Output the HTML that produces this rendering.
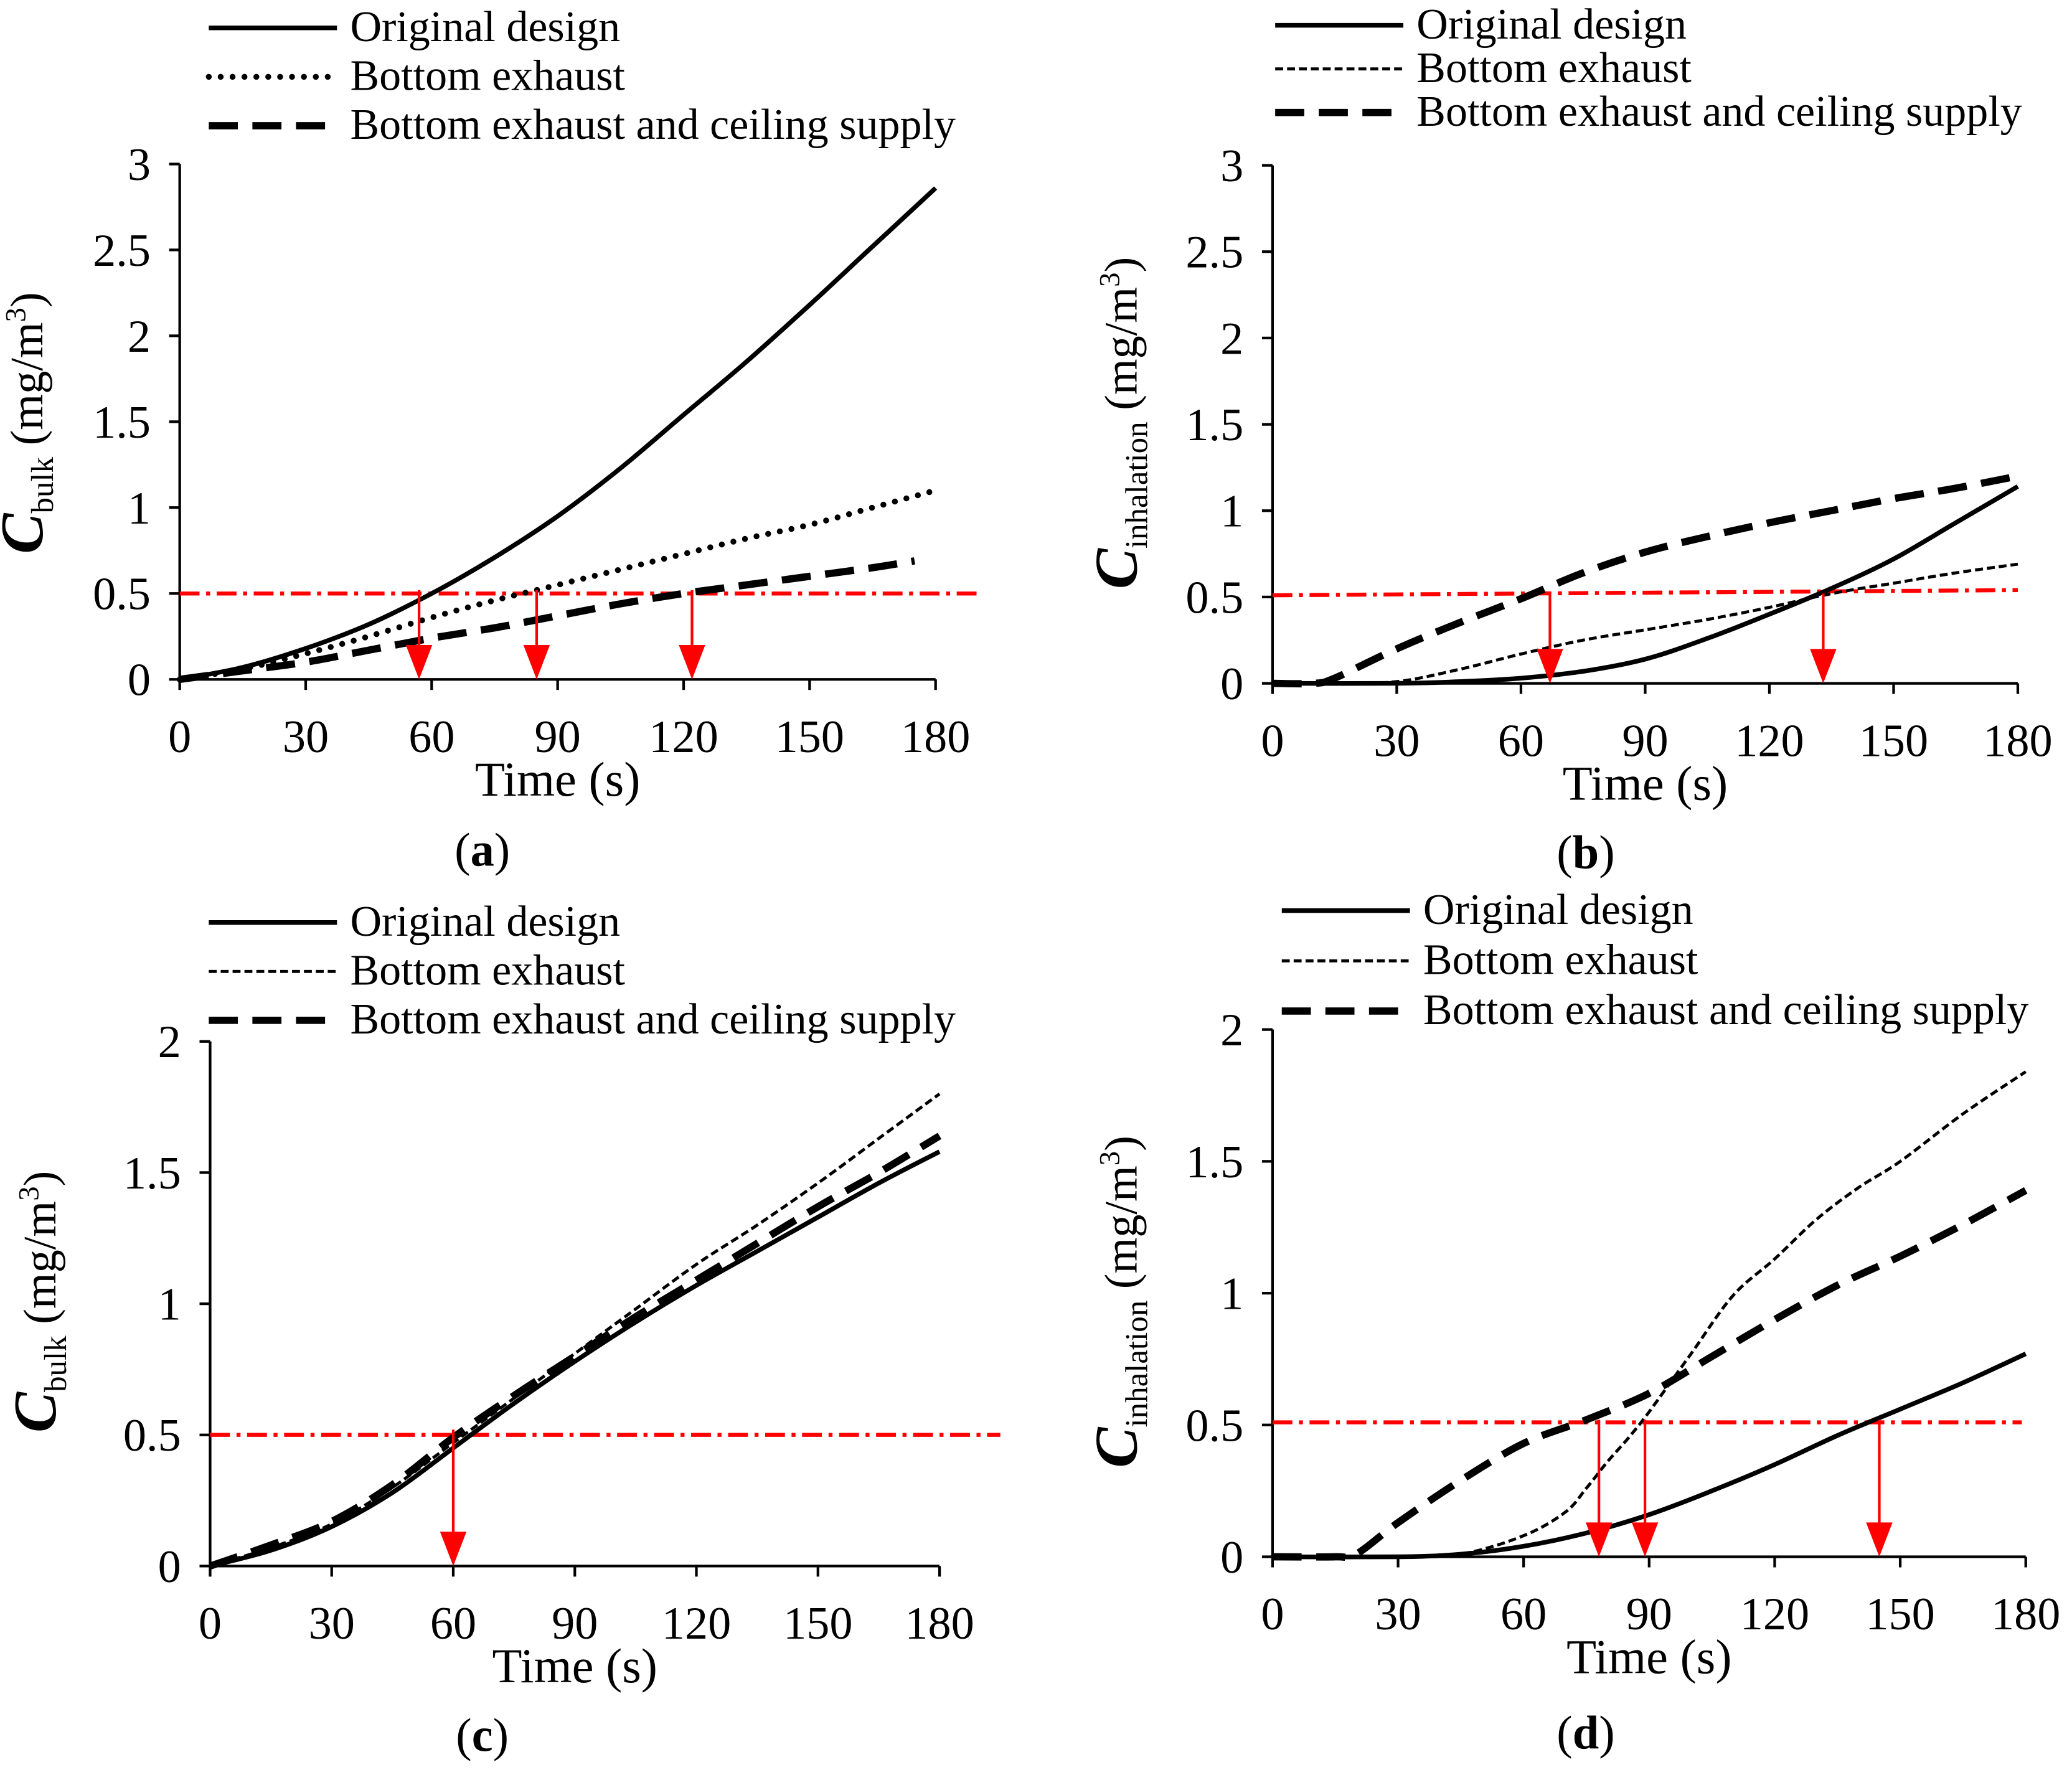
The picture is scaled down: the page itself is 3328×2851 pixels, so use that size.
<!DOCTYPE html>
<html><head><meta charset="utf-8"><style>
html,body{margin:0;padding:0;background:#fff}
svg{display:block;font-family:"Liberation Serif",serif}
</style></head><body>
<svg id="fig" width="3328" height="2851" viewBox="0 0 1568 1343" xmlns="http://www.w3.org/2000/svg"></svg>
<script>
// Panel (a)
const aT=[0,15,30,45,60,75,90,105,120,135,150,165,180];
const aOrig=[0,0.07,0.18,0.32,0.5,0.71,0.95,1.23,1.54,1.85,2.18,2.52,2.86];
const aBEt=[0,15,30,45,60,75,90,105,120,135,150,165,180];
const aBE=[0,0.06,0.15,0.25,0.36,0.46,0.55,0.64,0.73,0.82,0.9,1.0,1.1];
const aBCt=[0,15,30,45,60,75,90,105,120,135,150,165,175];
const aBC=[0,0.05,0.1,0.17,0.24,0.3,0.37,0.44,0.5,0.55,0.6,0.65,0.69];
const aArrows=[57,85,122];
// Panel (b)
const bOt=[0,30,45,60,75,90,105,120,135,150,165,180];
const bOrig=[0,0,0.01,0.03,0.07,0.14,0.26,0.4,0.55,0.72,0.93,1.14];
const bBEt=[0,15,30,45,60,75,90,105,120,135,150,165,180];
const bBE=[0,0,0.01,0.08,0.17,0.25,0.31,0.37,0.44,0.52,0.58,0.64,0.69];
const bBCt=[0,10,15,30,45,60,75,90,105,120,135,150,165,180];
const bBC=[0,0,0.03,0.2,0.35,0.49,0.64,0.76,0.85,0.93,1.0,1.07,1.13,1.2];
const bArrows=[67,133];
// Panel (c)
const cT=[0,15,30,45,60,75,90,105,120,135,150,165,180];
const cOrig=[0,0.06,0.15,0.28,0.45,0.62,0.78,0.93,1.07,1.2,1.33,1.46,1.58];
const cBE=[0,0.07,0.16,0.3,0.47,0.64,0.81,0.98,1.15,1.3,1.46,1.63,1.8];
const cBC=[0,0.08,0.17,0.31,0.49,0.65,0.8,0.95,1.09,1.23,1.37,1.5,1.64];
const cArrows=[60];
// Panel (d)
const dOt=[0,30,45,60,75,90,105,120,135,150,165,180];
const dOrig=[0,0,0.01,0.04,0.09,0.16,0.25,0.35,0.46,0.56,0.66,0.77];
const dBEt=[0,30,45,60,70,75,80,85,90,100,110,120,130,140,150,165,180];
const dBE=[0,0,0.01,0.08,0.17,0.26,0.36,0.45,0.55,0.77,0.99,1.13,1.28,1.4,1.5,1.68,1.84];
const dBCt=[0,15,20,30,45,60,75,90,105,120,135,150,165,180];
const dBC=[0,0,0.01,0.13,0.29,0.43,0.52,0.62,0.76,0.9,1.03,1.14,1.26,1.39];
const dArrows=[78,89,145];
const xTicks=[0,30,60,90,120,150,180];
const yTicks3=["0","0.5","1","1.5","2","2.5","3"];
const yTicks2=["0","0.5","1","1.5","2"];
const legendNames=["Original design","Bottom exhaust","Bottom exhaust and ceiling supply"];

const NS="http://www.w3.org/2000/svg";
const svg=document.getElementById('fig');
function mk(tag,attrs,parent){const e=document.createElementNS(NS,tag);for(const k in attrs)e.setAttribute(k,attrs[k]);(parent||svg).appendChild(e);return e;}
const styles={
 solid:{stroke:'#000','stroke-width':3.5,fill:'none'},
 dotted:{stroke:'#000','stroke-width':4.5,fill:'none','stroke-dasharray':'0 9','stroke-linecap':'round'},
 thin:{stroke:'#000','stroke-width':2.3,fill:'none','stroke-dasharray':'6 3'},
 thick:{stroke:'#000','stroke-width':5.5,fill:'none','stroke-dasharray':'22 11'}
};
function smoothPath(P){
 let d=`M${P[0][0].toFixed(1)},${P[0][1].toFixed(1)}`;
 for(let i=0;i<P.length-1;i++){
  const p0=P[Math.max(0,i-1)],p1=P[i],p2=P[i+1],p3=P[Math.min(P.length-1,i+2)];
  const c1=[p1[0]+(p2[0]-p0[0])/6,p1[1]+(p2[1]-p0[1])/6];
  const c2=[p2[0]-(p3[0]-p1[0])/6,p2[1]-(p3[1]-p1[1])/6];
  d+=`C${c1[0].toFixed(1)},${c1[1].toFixed(1)} ${c2[0].toFixed(1)},${c2[1].toFixed(1)} ${p2[0].toFixed(1)},${p2[1].toFixed(1)}`;
 }
 return d;
}
function panel(p){
 const g=mk('g',{});
 
 
 const X=t=>p.x0+(p.x1-p.x0)*t/180, Y=v=>p.y0+(p.y1-p.y0)*v/p.ymax;
 p.series.forEach((s,i)=>{
  const ly=p.ly+i*p.lgap;
  const l=mk('line',Object.assign({x1:p.lx,x2:p.lx+97,y1:ly,y2:ly},styles[s.style]),g);
  
  
  const t=mk('text',{x:p.lx+107,y:ly+10,'font-size':33},g);
  t.textContent=legendNames[i];
  
  
 });
 const ax=mk('path',{d:`M${p.x0},${p.y1}V${p.y0}H${p.x1}`,stroke:'#000','stroke-width':2,fill:'none'},g);
 
 
 xTicks.forEach(t=>{
  mk('line',{x1:X(t),x2:X(t),y1:p.y0,y2:p.y0+8,stroke:'#000','stroke-width':2},g);
  const tx=mk('text',{x:X(t),y:p.y0+55,'font-size':35,'text-anchor':'middle'},g);
  tx.textContent=t;
  
  
 });
 p.yt.forEach((lab,i)=>{
  const v=i*0.5;
  mk('line',{x1:p.x0-8,x2:p.x0,y1:Y(v),y2:Y(v),stroke:'#000','stroke-width':2},g);
  const ty=mk('text',{x:p.x0-22,y:Y(v)+12,'font-size':35,'text-anchor':'end'},g);
  ty.textContent=lab;
  
  
 });
 const xt=mk('text',{x:(p.x0+p.x1)/2,y:p.y0+88,'font-size':37,'text-anchor':'middle'},g);
 xt.textContent='Time (s)';
 
 
 const yt=mk('text',{transform:`translate(${p.tx},${p.ty}) rotate(-90)`,'text-anchor':'middle','font-size':35},g);
 
 
 yt.innerHTML=`<tspan font-weight="bold" font-style="italic" font-size="46">C</tspan><tspan font-size="24" dy="8">${p.sub}</tspan><tspan dy="-8"> (mg/m</tspan><tspan font-size="22" dy="-13">3</tspan><tspan dy="13">)</tspan>`;
 const cap=mk('text',{x:p.capx,y:p.capy,'font-size':36,'text-anchor':'middle'},g);
 cap.innerHTML=`(<tspan font-weight="bold">${p.id}</tspan>)`;
 
 
 const th=mk('line',Object.assign({x1:p.x0,x2:p.rx,y1:Y(p.th0),y2:Y(p.th1)},{stroke:'#f00','stroke-width':3,'stroke-dasharray':'15 5 3 5'}),g);
 
 
 p.series.forEach((s,i)=>{
  const P=s.t.map((t,j)=>[X(t),Y(s.v[j])]);
  const pl=mk('path',Object.assign({d:smoothPath(P),'stroke-linejoin':'round'},styles[s.style]),g);
  
  
 });
 p.arrows.forEach(t=>{
  const ax0=X(t), ytop=Y(0.52), yb=Y(0);
  const a=mk('g',{},g);
  
  
  mk('line',{x1:ax0,x2:ax0,y1:ytop,y2:yb-20,stroke:'#f00','stroke-width':2},a);
  mk('polygon',{points:`${ax0-10},${yb-26} ${ax0+10},${yb-26} ${ax0},${yb}`,fill:'#f00'},a);
 });
}
panel({id:'a',x0:136,x1:708,y0:514,y1:124,ymax:3,yt:yTicks3,lx:158,ly:21,lgap:37,tx:32,ty:320,sub:'bulk',capx:365,capy:655,rx:742,th0:0.5,th1:0.5,arrows:aArrows,
 series:[{t:aT,v:aOrig,style:'solid'},{t:aBEt,v:aBE,style:'dotted'},{t:aBCt,v:aBC,style:'thick'}]});
panel({id:'b',x0:963,x1:1527,y0:517,y1:125,ymax:3,yt:yTicks3,lx:965,ly:19,lgap:33,tx:860,ty:320,sub:'inhalation',capx:1200,capy:657,rx:1527,th0:0.51,th1:0.54,arrows:bArrows,
 series:[{t:bOt,v:bOrig,style:'solid'},{t:bBEt,v:bBE,style:'thin'},{t:bBCt,v:bBC,style:'thick'}]});
panel({id:'c',x0:159,x1:711,y0:1185,y1:788,ymax:2,yt:yTicks2,lx:158,ly:698,lgap:37,tx:42,ty:985,sub:'bulk',capx:365,capy:1325,rx:757,th0:0.5,th1:0.5,arrows:cArrows,
 series:[{t:cT,v:cOrig,style:'solid'},{t:cT,v:cBE,style:'thin'},{t:cT,v:cBC,style:'thick'}]});
panel({id:'d',x0:963,x1:1533,y0:1178,y1:779,ymax:2,yt:yTicks2,lx:970,ly:689,lgap:38,tx:860,ty:985,sub:'inhalation',capx:1200,capy:1323,rx:1530,th0:0.51,th1:0.51,arrows:dArrows,
 series:[{t:dOt,v:dOrig,style:'solid'},{t:dBEt,v:dBE,style:'thin'},{t:dBCt,v:dBC,style:'thick'}]});
</script>
</body></html>
